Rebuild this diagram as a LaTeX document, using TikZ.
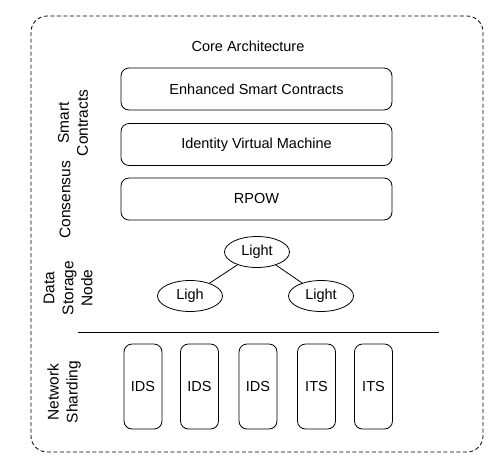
\documentclass[tikz,border=0pt]{standalone}
\usepackage{fontspec}
\setmainfont{Liberation Sans}
\usetikzlibrary{shapes.geometric}

\tikzset{
  layer/.style={draw,rounded corners=8pt,minimum width=271pt,minimum height=42pt,inner sep=0pt,font=\fontsize{14.5}{16}\selectfont},
  shard/.style={draw,rounded corners=8pt,minimum width=38pt,minimum height=85pt,inner sep=0pt,font=\fontsize{14.5}{16}\selectfont},
  light/.style={draw,ellipse,minimum width=65pt,minimum height=31pt,inner sep=0pt,font=\fontsize{14.5}{16}\selectfont},
  side/.style={rotate=90,align=center,font=\fontsize{15.5}{19}\selectfont}
}

\begin{document}
\begin{tikzpicture}[x=1pt,y=-1pt,line width=0.8pt] % begins the tikz environment
    \useasboundingbox (0,0) rectangle (504,467);
    \draw[dash pattern=on 4pt off 2.5pt,rounded corners=16pt] (31,16) rectangle (483,452);
    \node (title) at (248,46) [font=\fontsize{14.5}{16}\selectfont] {Core Architecture};
    % layers
    \node (esc) at (256.5,89) [layer] {Enhanced Smart Contracts};
    \node (ivm) at (256.5,144.5) [layer] {Identity Virtual Machine};
    \node (rpow) at (256.5,199) [layer] {RPOW};
    % side labels
    \node (sc) at (73,123) [side] {Smart\\Contracts};
    \node (cons) at (65,200) [side] {Consensus};
    \node (dsn) at (68,288) [side] {Data\\Storage\\Node};
    \node (ns) at (64,392) [side] {Network\\Sharding};
    % storage nodes
    \node (top) at (257,252) [light] {Light};
    \node (left) at (190,296) [light] {Ligh};
    \node (right) at (321,296) [light] {Light};
    \draw (top) -- (left);
    \draw (top) -- (right);
    \coordinate (sepL) at (78,332);
    \coordinate (sepR) at (439,332);
    \draw (sepL) -- (sepR);
    % shards
    \node (s1) at (143,386.5) [shard] {IDS};
    \node (s2) at (199.5,386.5) [shard] {IDS};
    \node (s3) at (258,386.5) [shard] {IDS};
    \node (s4) at (316.5,386.5) [shard] {ITS};
    \node (s5) at (373.5,386.5) [shard] {ITS};
  \end{tikzpicture}
\end{document}
